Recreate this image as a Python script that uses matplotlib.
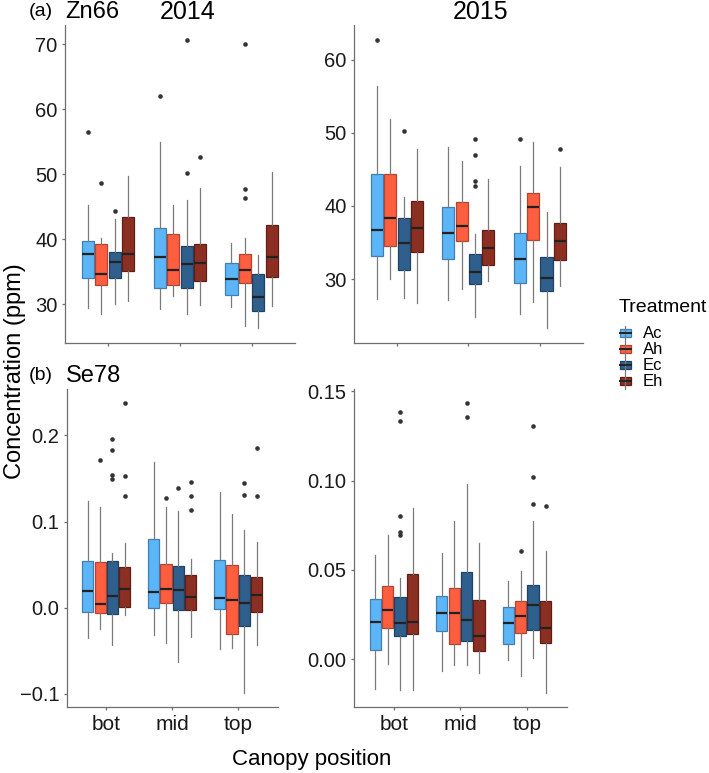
import numpy as np
import matplotlib.pyplot as plt
from matplotlib.patches import Rectangle

plt.rcParams['font.family'] = ['Liberation Sans', 'DejaVu Sans']

W, H = 709, 773

positions = ["bot", "mid", "top"]
treatments = ["Ac", "Ah", "Ec", "Eh"]
fill_colors = ["#5cb5f7", "#fd5e40", "#2f5f8c", "#8c2f23"]
edge_colors = ["#3f7fb3", "#b5432d", "#1f4163", "#5e1d15"]

# rows = treatments (Ac, Ah, Ec, Eh), columns = canopy position (bot, mid, top)
# --- Zn66 2014
zn14_lo = [[29.4, 29.2, 29.6], [28.5, 31.2, 26.7], [30.1, 28.5, 26.3], [30.5, 29.9, 29.8]]
zn14_q1 = [[34.0, 32.5, 31.4], [33.0, 33.0, 33.3], [34.0, 32.5, 28.9], [35.1, 33.5, 34.2]]
zn14_med = [[37.7, 37.3, 33.9], [34.6, 35.2, 35.2], [36.5, 36.2, 31.1], [37.8, 36.4, 37.3]]
zn14_q3 = [[39.7, 41.8, 36.4], [39.3, 40.8, 37.8], [38.0, 39.0, 34.6], [43.4, 39.3, 42.2]]
zn14_hi = [[45.3, 54.9, 39.4], [40.2, 45.2, 40.2], [43.1, 46.0, 37.6], [49.8, 47.9, 50.4]]
zn14_out = [[[56.5], [62.0], []], [[48.7], [], [46.4, 47.7, 70.1]],
            [[44.3], [50.2, 70.7], []], [[], [52.6], []]]

# --- Zn66 2015
zn15_lo = [[27.3, 27.2, 25.3], [30.0, 28.7, 26.9], [27.5, 24.9, 23.3], [26.7, 29.8, 29.1]]
zn15_q1 = [[33.2, 32.7, 29.5], [34.5, 35.2, 35.4], [31.3, 29.3, 28.4], [33.7, 31.9, 32.6]]
zn15_med = [[36.7, 36.3, 32.7], [38.4, 37.2, 39.8], [34.9, 31.0, 30.1], [37.0, 34.2, 35.2]]
zn15_q3 = [[44.3, 39.9, 36.3], [44.4, 40.5, 41.8], [38.3, 33.4, 33.1], [40.7, 36.7, 37.7]]
zn15_hi = [[56.4, 48.0, 45.5], [51.9, 46.1, 48.8], [41.2, 36.2, 39.2], [47.8, 43.7, 45.3]]
zn15_out = [[[62.7], [], [49.2]], [[], [], []],
            [[50.3], [49.2, 47.0, 43.4, 42.7], []], [[], [], [47.8]]]

# --- Se78 2014
se14_lo = [[-0.0349, -0.0314, -0.0477], [-0.0252, -0.0407, -0.0465],
           [-0.0438, -0.0633, -0.0988], [-0.0090, -0.0342, -0.0438]]
se14_q1 = [[-0.0051, -0.0008, -0.0016], [-0.0058, 0.0058, -0.0302],
           [-0.0070, -0.0028, -0.0214], [0.0012, -0.0028, -0.0047]]
se14_med = [[0.0193, 0.0181, 0.0112], [0.0038, 0.0221, 0.0085],
            [0.0135, 0.0201, 0.0058], [0.0213, 0.0128, 0.0147]]
se14_q3 = [[0.0539, 0.0794, 0.0554], [0.0535, 0.0507, 0.0492],
           [0.0542, 0.0484, 0.0379], [0.0472, 0.0376, 0.0356]]
se14_hi = [[0.1236, 0.1690, 0.1344], [0.1170, 0.1170, 0.1089],
           [0.0635, 0.1120, 0.0907], [0.0748, 0.0562, 0.0763]]
se14_out = [[[], [], []], [[0.1716], [0.127], []],
            [[0.1957, 0.1833, 0.1535, 0.1492], [0.139], [0.1442, 0.1306]],
            [[0.2372, 0.153, 0.130], [0.1457, 0.130, 0.1135], [0.186, 0.1294]]]

# --- Se78 2015
se15_lo = [[-0.0168, -0.0066, -0.0006], [-0.0028, -0.0032, -0.0095],
           [-0.0174, -0.0030, 0.0006], [-0.0172, -0.0077, -0.0187]]
se15_q1 = [[0.0050, 0.0159, 0.0086], [0.0172, 0.0084, 0.0146],
           [0.0131, 0.0104, 0.0163], [0.0140, 0.0048, 0.0093]]
se15_med = [[0.0211, 0.0258, 0.0200], [0.0278, 0.0258, 0.0241],
            [0.0200, 0.0219, 0.0301], [0.0211, 0.0129, 0.0177]]
se15_q3 = [[0.0337, 0.0355, 0.0293], [0.0410, 0.0400, 0.0327],
           [0.0351, 0.0490, 0.0417], [0.0477, 0.0331, 0.0327]]
se15_hi = [[0.0585, 0.0593, 0.0439], [0.0696, 0.0774, 0.0492],
           [0.0455, 0.0980, 0.0772], [0.0847, 0.0649, 0.0608]]
se15_out = [[[], [], []], [[], [], [0.0606]],
            [[0.1384, 0.1337, 0.0804, 0.071, 0.0696], [0.1433, 0.1356], [0.1309, 0.1023, 0.0872]],
            [[], [], [0.086]]]

zn14_ticks = [30, 40, 50, 60, 70]
zn15_ticks = [30, 40, 50, 60]
se14_ticks = [-0.1, 0.0, 0.1, 0.2]
se14_labels = ["\u22120.1", "0.0", "0.1", "0.2"]
se15_ticks = [0.0, 0.05, 0.10, 0.15]
se15_labels = ["0.00", "0.05", "0.10", "0.15"]

fig = plt.figure(figsize=(W / 100, H / 100), dpi=100)


def ax_at(x0, x1, ytop, ybot):
    return fig.add_axes([x0 / W, 1 - ybot / H, (x1 - x0) / W, (ybot - ytop) / H])


def draw_panel(ax, lo, q1, med, q3, hi, out, ticks, labels, show_x):
    dodge = 0.1875
    allv = []
    for i in range(len(treatments)):
        stats = []
        for j in range(len(positions)):
            stats.append(dict(whislo=lo[i][j], q1=q1[i][j], med=med[i][j],
                              q3=q3[i][j], whishi=hi[i][j], fliers=out[i][j]))
            allv += [lo[i][j], hi[i][j]] + list(out[i][j])
        pos = np.arange(1, len(positions) + 1) + (i - 1.5) * dodge
        ax.bxp(stats, positions=pos, widths=0.169, patch_artist=True, showcaps=False,
               manage_ticks=False,
               boxprops=dict(facecolor=fill_colors[i], edgecolor=edge_colors[i], linewidth=0.9),
               whiskerprops=dict(color="#7a7a7a", linewidth=0.9),
               medianprops=dict(color="#222222", linewidth=1.6),
               flierprops=dict(marker="o", markersize=3.3, markerfacecolor="#333333",
                               markeredgecolor="none"))
    # ggplot-like 5% expansion
    lo_v, hi_v = min(allv), max(allv)
    pad = 0.05 * (hi_v - lo_v)
    ax.set_ylim(lo_v - pad, hi_v + pad)
    ax.set_xlim(0.4, 3.6)
    ax.set_xticks(np.arange(1, len(positions) + 1))
    ax.set_xticklabels(positions if show_x else [])
    ax.set_yticks(ticks)
    ax.set_yticklabels(labels)
    for s in ["top", "right"]:
        ax.spines[s].set_visible(False)
    for s in ["left", "bottom"]:
        ax.spines[s].set_color("#6e6e6e")
        ax.spines[s].set_linewidth(0.9)
    ax.tick_params(axis="y", length=2.4, width=0.9, color="#6e6e6e", pad=3,
                   labelsize=14.5, labelcolor="#1a1a1a")
    ax.tick_params(axis="x", length=2.4, width=0.9, color="#6e6e6e", pad=3,
                   labelsize=15, labelcolor="#1a1a1a")


ax1 = ax_at(65, 294.7, 25.3, 342.7)
draw_panel(ax1, zn14_lo, zn14_q1, zn14_med, zn14_q3, zn14_hi, zn14_out,
           zn14_ticks, [str(t) for t in zn14_ticks], False)
ax2 = ax_at(354, 582.7, 25.3, 342.7)
draw_panel(ax2, zn15_lo, zn15_q1, zn15_med, zn15_q3, zn15_hi, zn15_out,
           zn15_ticks, [str(t) for t in zn15_ticks], False)
ax3 = ax_at(66.7, 277.7, 389, 707)
draw_panel(ax3, se14_lo, se14_q1, se14_med, se14_q3, se14_hi, se14_out,
           se14_ticks, se14_labels, True)
ax4 = ax_at(354, 566.7, 389, 707)
draw_panel(ax4, se15_lo, se15_q1, se15_med, se15_q3, se15_hi, se15_out,
           se15_ticks, se15_labels, True)

# overlay for titles, axis titles and legend (pixel coordinates)
ov = fig.add_axes([0, 0, 1, 1])
ov.set_xlim(0, W)
ov.set_ylim(H, 0)
ov.axis("off")

ov.text(41, 12, "(a)", ha="center", va="center", fontsize=14)
ov.text(65, 12, "Zn66", ha="left", va="center", fontsize=17)
ov.text(188, 12, "2014", ha="center", va="center", fontsize=18)
ov.text(481, 12, "2015", ha="center", va="center", fontsize=18)
ov.text(41, 376, "(b)", ha="center", va="center", fontsize=14)
ov.text(66, 376, "Se78", ha="left", va="center", fontsize=17)
ov.text(15, 371, "Concentration (ppm)", rotation=90, ha="center", va="center", fontsize=17)
ov.text(312, 760, "Canopy position", ha="center", va="center", fontsize=16)

ov.text(619, 307, "Treatment", ha="left", va="center", fontsize=14)
row_y = [333, 349, 365, 381]
for i, tr in enumerate(treatments):
    y = row_y[i]
    ov.plot([625.3, 625.3], [y - 7.5, y + 7.5], color="#7a7a7a", lw=0.9)
    ov.add_patch(Rectangle((620, y - 4), 10.7, 8, facecolor=fill_colors[i],
                           edgecolor=edge_colors[i], lw=0.9))
    ov.plot([620, 630.7], [y, y], color="#222222", lw=1.4)
    ov.text(642.7, y, tr, ha="left", va="center", fontsize=12)

fig.savefig("out.png", dpi=100)
